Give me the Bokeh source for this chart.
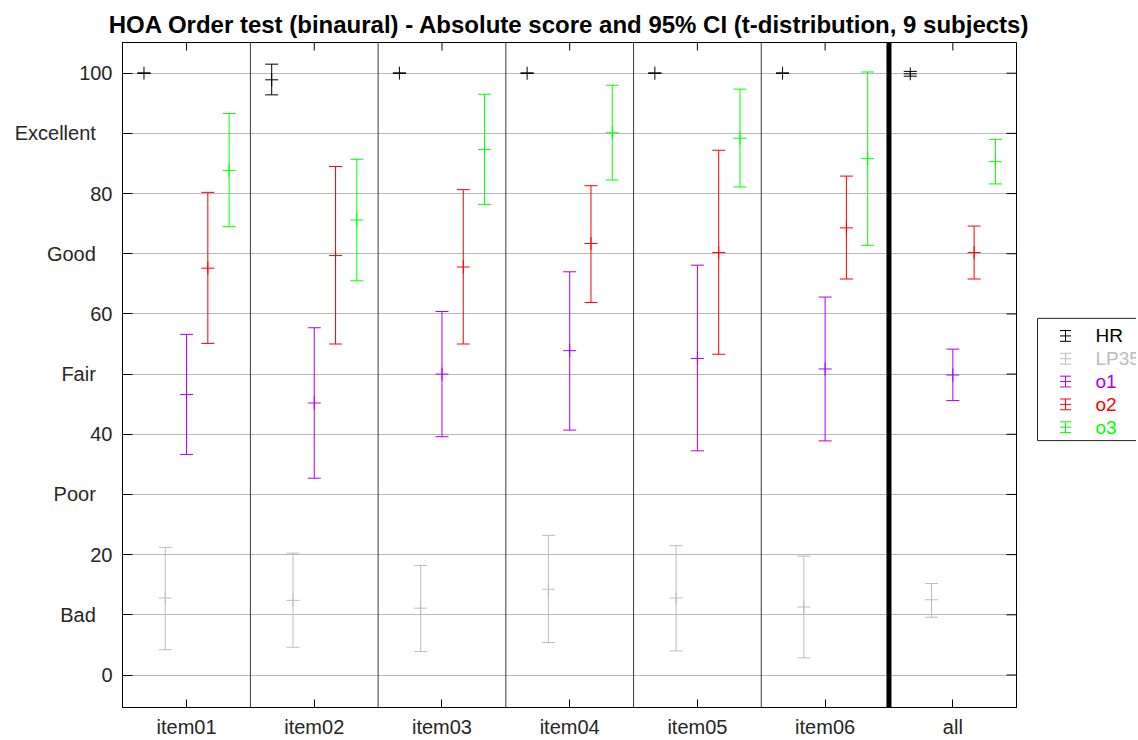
import math
from bokeh.plotting import figure
from bokeh.models import Range1d, FixedTicker, Span
from bokeh.layouts import row
from bokeh.embed import file_html
from bokeh.resources import INLINE
from bokeh.core.properties import value

FONT = "Liberation Sans"

items = ["item01", "item02", "item03", "item04", "item05", "item06", "all"]
series = ["HR", "LP35", "o1", "o2", "o3"]
colors = ["#000000", "#bdbdbd", "#a600ff", "#ff0000", "#00ff00"]

y_ticks = [0, 10, 20, 30, 40, 50, 60, 70, 80, 90, 100]
y_words = {10: "Bad", 30: "Poor", 50: "Fair", 70: "Good", 90: "Excellent"}

hr_mean = [100, 98.9, 100, 100, 100, 100, 99.9]
hr_lo = [100, 96.4, 100, 100, 100, 100, 99.5]
hr_hi = [100, 101.5, 100, 100, 100, 100, 100.3]

lp35_mean = [12.8, 12.4, 11.1, 14.25, 12.8, 11.3, 12.5]
lp35_lo = [4.2, 4.6, 3.9, 5.4, 4.0, 2.85, 9.6]
lp35_hi = [21.2, 20.25, 18.2, 23.2, 21.5, 19.75, 15.2]

o1_mean = [46.6, 45.2, 50.0, 53.9, 52.6, 50.85, 49.85]
o1_lo = [36.65, 32.7, 39.6, 40.7, 37.25, 38.9, 45.6]
o1_hi = [56.6, 57.7, 60.4, 67.0, 68.1, 62.8, 54.15]

o2_mean = [67.6, 69.7, 67.8, 71.7, 70.2, 74.3, 70.2]
o2_lo = [55.1, 55.0, 55.0, 61.9, 53.3, 65.8, 65.8]
o2_hi = [80.2, 84.5, 80.65, 81.3, 87.2, 82.9, 74.6]

o3_mean = [83.85, 75.6, 87.3, 90.1, 89.2, 85.8, 85.3]
o3_lo = [74.5, 65.5, 78.2, 82.25, 81.1, 71.4, 81.6]
o3_hi = [93.3, 85.7, 96.5, 98.0, 97.35, 100.2, 89.0]

means = [hr_mean, lp35_mean, o1_mean, o2_mean, o3_mean]
los = [hr_lo, lp35_lo, o1_lo, o2_lo, o3_lo]
his = [hr_hi, lp35_hi, o1_hi, o2_hi, o3_hi]

n = len(items)
groups = list(range(1, n + 1))
X0, X1 = 0.4985, n + 0.4985
Y0, Y1 = -5.4, 105.1

p = figure(width=1031, height=740,
           x_range=Range1d(X0, X1), y_range=Range1d(Y0, Y1),
           output_backend="svg", toolbar_location=None,
           min_border_left=122, min_border_right=15, min_border_top=42,
           min_border_bottom=30, background_fill_color="white",
           outline_line_color="black")

p.title.text = "HOA Order test (binaural) - Absolute score and 95% CI (t-distribution, 9 subjects)"
p.title.align = "center"
p.title.text_font = FONT
p.title.text_font_size = "24px"
p.title.text_font_style = "bold"
p.title.text_color = "black"

# left axis
yl = p.yaxis[0]
yl.ticker = FixedTicker(ticks=y_ticks)
yl.major_label_overrides = {k: v + "\u00a0\u00a0\u00a0" for k, v in y_words.items()}
yl.major_tick_in = 10
yl.major_tick_out = 0
yl.minor_tick_line_color = None
yl.major_label_standoff = 10
yl.major_label_text_font = FONT
yl.major_label_text_font_size = "20px"
yl.major_label_text_color = "#262626"
yl.axis_line_color = "black"
yl.major_tick_line_color = "black"

# bottom axis
xb = p.xaxis[0]
xb.ticker = FixedTicker(ticks=groups)
xb.major_label_overrides = {g: items[g - 1] for g in groups}
xb.major_tick_in = 8
xb.major_tick_out = 0
xb.minor_tick_line_color = None
xb.major_label_standoff = 8
xb.major_label_text_font = FONT
xb.major_label_text_font_size = "20px"
xb.major_label_text_color = "#262626"
xb.axis_line_color = "black"

p.xgrid.grid_line_color = None
p.ygrid.ticker = FixedTicker(ticks=y_ticks)
p.ygrid.grid_line_color = "#b8b8b8"
p.ygrid.grid_line_width = 1

# inward tick marks on top and right frame edges (half of each dash is clipped by the frame)
p.scatter(x=groups, y=[Y1] * n, marker="dash", angle=math.pi / 2, size=16,
          line_color="black", line_width=1)
p.scatter(x=[X1] * len(y_ticks), y=y_ticks, marker="dash", size=20,
          line_color="black", line_width=1)

# group separators
for g in groups[:-1]:
    last = (g == n - 1)
    p.add_layout(Span(location=g + 0.5, dimension="height",
                      line_color="black" if last else "#3a3a3a",
                      line_width=5 if last else 1))

# error bars
for k, (name, col) in enumerate(zip(series, colors)):
    xs = [g + (k - 2) / 6 for g in groups]
    p.segment(x0=xs, y0=los[k], x1=xs, y1=his[k], line_color=col, line_width=1)
    p.scatter(x=xs, y=los[k], marker="dash", size=13, line_color=col, line_width=1)
    p.scatter(x=xs, y=his[k], marker="dash", size=13, line_color=col, line_width=1)
    p.scatter(x=xs, y=means[k], marker="cross", size=13, line_color=col, line_width=1)

# legend as a small companion figure (screen-like units)
LW, LH = 105, 740
lf = figure(width=LW, height=LH, x_range=Range1d(0, LW), y_range=Range1d(LH, 0),
            output_backend="svg", toolbar_location=None, min_border=0,
            outline_line_color=None)
lf.axis.visible = False
lf.grid.grid_line_color = None
lf.quad(left=[6], right=[LW + 20], top=[307], bottom=[443],
        fill_color="white", line_color="#262626", line_width=1)
row_y = [326.5 + 25.4 * i for i in range(len(series))]
icon_x = [34] * len(series)
lf.segment(x0=icon_x, y0=[y - 6 for y in row_y], x1=icon_x, y1=[y + 6 for y in row_y],
           line_color=colors)
for dy in (-6, 0, 6):
    lf.scatter(x=icon_x, y=[y + dy for y in row_y], marker="dash", size=11,
               line_color=colors)
lf.text(x=[64] * len(series), y=row_y, text=series, text_color=colors,
        text_baseline="middle", text_font=value(FONT), text_font_size="19px")

layout = row(p, lf, spacing=0)
open("out.html", "w").write(file_html(layout, INLINE))
